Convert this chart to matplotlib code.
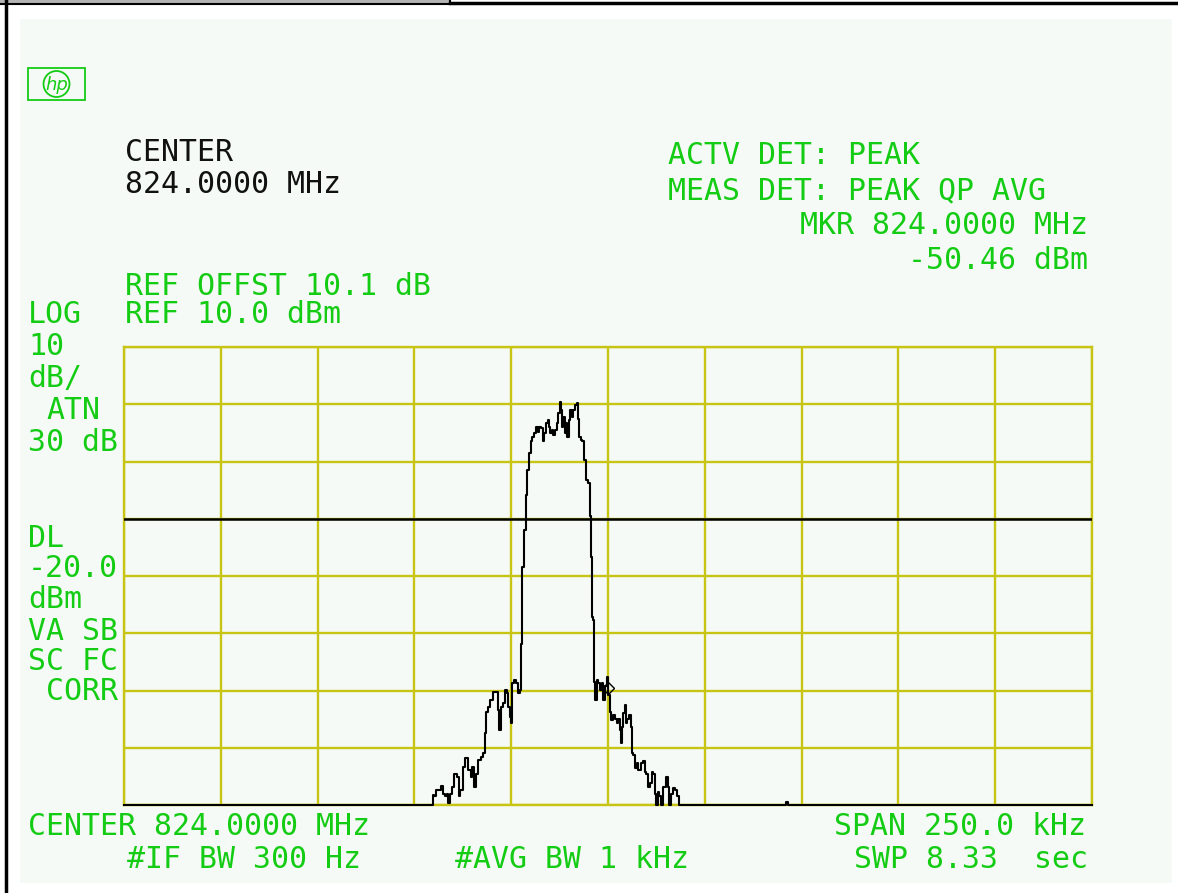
#!/usr/bin/env python
# coding: utf-8

import matplotlib
matplotlib.use('Agg')
import matplotlib.pyplot as plt
from matplotlib.patches import Rectangle, Circle


# --------------------------------- #
# data (offset from 824 MHz in kHz, level in dBm)

freq_khz = [-125.0, -45.5, -45.1, -44.7, -44.1, -43.4, -42.8, -42.4, -41.8, -41.5,
            -41.0, -40.6, -40.0, -39.3, -38.8, -38.4, -37.8, -37.2, -36.5, -35.8,
            -35.2, -34.8, -34.3, -33.8, -33.2, -32.6, -31.9, -31.7, -31.3, -30.7,
            -30.0, -29.4, -28.7, -28.3, -27.9, -27.5, -26.9, -26.3, -26.0, -25.5,
            -25.1, -24.9, -24.5, -24.0, -23.4, -22.9, -22.5, -22.3, -21.9, -21.4,
            -21.2, -21.0, -20.6, -20.1, -19.7, -19.3, -18.9, -18.4, -18.0, -17.6,
            -17.1, -16.7, -16.3, -15.8, -15.4, -15.2, -14.8, -14.3, -13.9, -13.4,
            -13.1, -12.6, -12.2, -12.0, -11.7, -11.4, -10.9, -10.7, -10.3, -10.0,
            -9.6, -9.2, -8.8, -8.3, -7.9, -7.7, -7.2, -6.8, -6.4, -5.9,
            -5.3, -4.8, -4.6, -4.4, -4.1, -3.8, -3.6, -3.4, -3.1, -2.8,
            -2.2, -1.9, -1.4, -1.0, -0.5, -0.1, 0.3, 0.7, 1.1, 1.6,
            2.1, 2.4, 2.9, 3.3, 3.5, 3.8, 4.1, 4.5, 4.8, 5.2,
            5.7, 6.1, 6.4, 6.7, 7.2, 7.6, 8.1, 8.7, 9.3, 9.7,
            10.1, 10.6, 11.0, 11.5, 11.9, 12.2, 12.6, 13.0, 13.4, 13.9,
            14.3, 14.7, 15.2, 15.6, 16.0, 16.5, 17.0, 17.6, 18.2, 18.6,
            45.8, 46.2, 46.6, 125.0]

level_dbm = [-70.0, -70.0, -68.3, -68.5, -67.4, -67.4, -66.6, -68.0, -68.5, -68.0,
             -69.7, -68.0, -66.8, -64.5, -65.1, -68.5, -67.4, -63.3, -61.8, -63.9,
             -65.1, -63.3, -66.8, -64.5, -62.1, -61.6, -61.0, -57.5, -53.7, -52.8,
             -51.7, -50.2, -50.2, -53.4, -56.9, -52.8, -52.2, -49.9, -50.5, -52.8,
             -54.6, -55.7, -48.7, -48.2, -48.7, -50.5, -49.9, -41.8, -28.4, -22.0,
             -19.6, -15.9, -11.5, -8.6, -6.5, -5.7, -5.1, -3.9, -4.8, -3.9,
             -4.2, -6.5, -5.1, -3.3, -2.8, -3.9, -5.1, -4.5, -5.4, -4.5,
             -3.3, -1.6, 0.4, -1.0, -3.9, -2.2, -5.1, -3.3, -5.7, -2.8,
             -1.0, -2.2, -1.0, -0.1, 0.2, -2.5, -5.7, -6.2, -6.5, -9.7,
             -13.2, -13.8, -19.6, -26.6, -37.1, -37.7, -47.6, -48.5, -51.7, -48.2,
             -48.7, -49.9, -48.7, -51.7, -49.3, -47.6, -50.8, -53.7, -55.2, -54.3,
             -54.9, -55.7, -54.9, -56.9, -59.2, -56.3, -54.0, -52.5, -55.7, -54.9,
             -54.3, -56.3, -61.0, -61.3, -63.6, -62.7, -63.9, -62.7, -62.4, -64.2,
             -64.5, -66.8, -66.2, -64.2, -64.5, -68.0, -70.0, -67.7, -68.5, -70.0,
             -66.8, -66.8, -65.1, -66.8, -70.0, -68.0, -67.1, -67.4, -68.5, -70.0,
             -70.0, -69.5, -70.0, -70.0]

span_khz = 250.0
ref_level = 10.0
db_per_div = 10.0
n_ydiv = 8
display_line = -20.0
mkr_freq = 0.0
mkr_level = -49.5

top_left_lines = ['CENTER', '824.0000 MHz']
det_lines = ['ACTV DET: PEAK', 'MEAS DET: PEAK QP AVG']
mkr_lines = ['MKR 824.0000 MHz', '-50.46 dBm']
ref_lines = ['REF OFFST 10.1 dB', 'REF 10.0 dBm']
side_labels = ['LOG', '10', 'dB/', 'ATN', '30 dB', 'DL', '-20.0', 'dBm',
               'VA SB', 'SC FC', 'CORR']


# --------------------------------- #

W, H = 1178, 893
green = '#14cc14'
grid_col = '#c8c414'
pale = '#f5faf6'
mono = 'DejaVu Sans Mono'
fs = 21.5

fig = plt.figure(figsize=(W / 100, H / 100), dpi=100)
fig.patch.set_facecolor('white')

# pixel-space overlay for the frame and the screen annotations
bg = fig.add_axes([0, 0, 1, 1], zorder=0)
bg.set_xlim(0, W)
bg.set_ylim(H, 0)
bg.axis('off')

bg.add_patch(Rectangle((20, 19), 1152, 864, facecolor=pale, edgecolor='none'))
bg.add_patch(Rectangle((0, 0), 450, 3, facecolor='#b4b4b4', edgecolor='none'))
bg.plot([0, 450], [4, 4], color='black', lw=1.5)
bg.plot([450, W], [3, 3], color='black', lw=2.5)
bg.plot([450, 450], [0, 4], color='black', lw=1.5)
bg.plot([6, 6], [0, H], color='black', lw=2.5)

# hp logo
bg.add_patch(Rectangle((28, 68), 57, 32, fill=False, edgecolor=green, lw=1.3))
bg.add_patch(Circle((56.5, 84), 13, facecolor=pale, edgecolor=green, lw=1.3))
bg.text(56.5, 85, 'hp', color=green, fontsize=13, style='italic',
        ha='center', va='center', family='DejaVu Sans')

# top annotations
bg.text(125, 161, top_left_lines[0], color='#111111', family=mono, fontsize=fs, va='baseline')
bg.text(125, 193, top_left_lines[1], color='#111111', family=mono, fontsize=fs, va='baseline')
bg.text(668, 164, det_lines[0], color=green, family=mono, fontsize=fs, va='baseline')
bg.text(668, 199, det_lines[1], color=green, family=mono, fontsize=fs, va='baseline')
bg.text(1088, 234, mkr_lines[0], color=green, family=mono, fontsize=fs, va='baseline', ha='right')
bg.text(1088, 269, mkr_lines[1], color=green, family=mono, fontsize=fs, va='baseline', ha='right')
bg.text(125, 295, ref_lines[0], color=green, family=mono, fontsize=fs, va='baseline')
bg.text(125, 323, ref_lines[1], color=green, family=mono, fontsize=fs, va='baseline')

# left column
side_y = [323, 355, 387, 419, 451, 547, 577, 608, 640, 670, 700]
for lab, y in zip(side_labels, side_y):
    x = 46 if lab in ('ATN', 'CORR') else 28
    bg.text(x, y, lab, color=green, family=mono, fontsize=fs, va='baseline')

# bottom annotations
bg.text(28, 835, 'CENTER 824.0000 MHz', color=green, family=mono, fontsize=fs, va='baseline')
bg.text(127, 868, '#IF BW 300 Hz', color=green, family=mono, fontsize=fs, va='baseline')
bg.text(455, 868, '#AVG BW 1 kHz', color=green, family=mono, fontsize=fs, va='baseline')
bg.text(1086, 835, 'SPAN %.1f kHz' % span_khz, color=green, family=mono, fontsize=fs,
        va='baseline', ha='right')
bg.text(1088, 868, 'SWP 8.33  sec', color=green, family=mono, fontsize=fs,
        va='baseline', ha='right')


# --------------------------------- #
# graticule + trace

left, right, top, bottom = 124, 1092, 347, 805
ax = fig.add_axes([left / W, (H - bottom) / H, (right - left) / W, (bottom - top) / H],
                  zorder=1)
ax.set_facecolor('none')
ax.set_xlim(-span_khz / 2, span_khz / 2)
ymin = ref_level - n_ydiv * db_per_div
ax.set_ylim(ymin, ref_level)
ax.set_xticks([-span_khz / 2 + i * span_khz / 10 for i in range(11)])
ax.set_yticks([ymin + i * db_per_div for i in range(n_ydiv + 1)])
ax.tick_params(length=0, labelleft=False, labelbottom=False)
ax.grid(True, color=grid_col, lw=1.7)
for s in ax.spines.values():
    s.set_color(grid_col)
    s.set_linewidth(1.7)

ax.axhline(display_line, color='black', lw=1.8, zorder=3)
ax.plot(freq_khz, level_dbm, color='black', lw=1.5, drawstyle='steps-mid',
        clip_on=False, zorder=4)
ax.plot([mkr_freq], [mkr_level], marker='D', ms=6, mfc='none', mec='black',
        mew=1.0, zorder=5)

fig.savefig('out.png', dpi=100)
